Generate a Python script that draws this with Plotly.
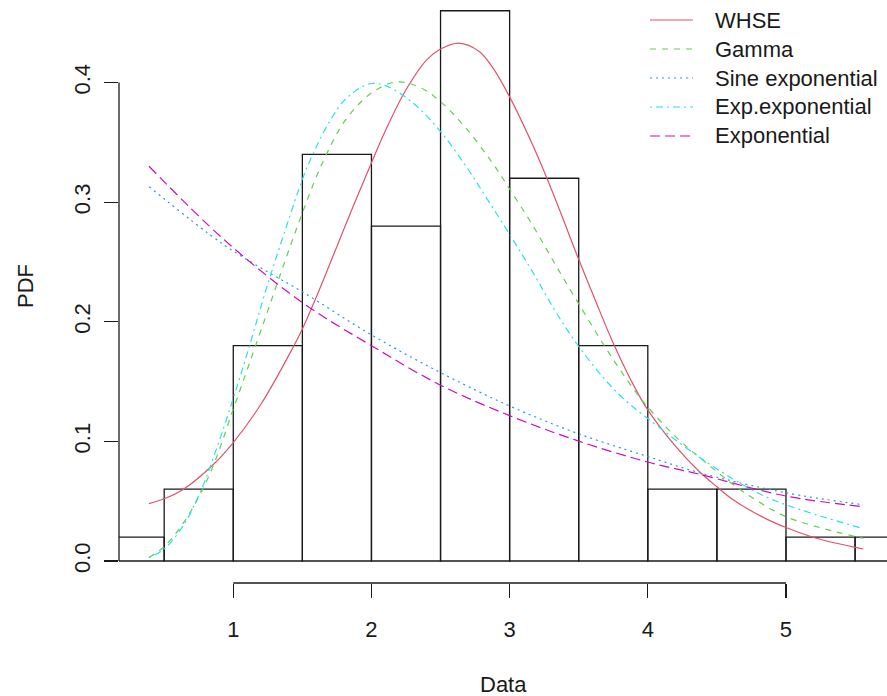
import plotly.graph_objects as go

# ---------------- data ----------------
bin_left = [0.0, 0.5, 1.0, 1.5, 2.0, 2.5, 3.0, 3.5, 4.0, 4.5, 5.0, 5.5]
density = [0.02, 0.06, 0.18, 0.34, 0.28, 0.46, 0.32, 0.18, 0.06, 0.06, 0.02, 0.02]
bin_width = 0.5

whse_x = [0.39, 0.5, 0.64, 0.85, 1.0, 1.2, 1.43, 1.5, 1.62, 1.75, 1.88, 2.0, 2.11, 2.25,
          2.4, 2.5, 2.63, 2.78, 2.88, 3.0, 3.17, 3.27, 3.38, 3.49, 3.62, 3.75, 3.87, 3.99,
          4.2, 4.37, 4.5, 4.62, 4.86, 5.0, 5.22, 5.56]
whse_y = [0.048, 0.052, 0.060, 0.080, 0.099, 0.131, 0.178, 0.194, 0.226, 0.263, 0.300, 0.333,
          0.362, 0.394, 0.419, 0.428, 0.433, 0.426, 0.412, 0.388, 0.347, 0.320, 0.288, 0.255,
          0.218, 0.182, 0.153, 0.128, 0.096, 0.075, 0.062, 0.051, 0.035, 0.028, 0.019, 0.010]

gamma_x = [0.39, 0.5, 0.64, 0.77, 0.87, 1.0, 1.11, 1.24, 1.36, 1.5, 1.65, 1.82, 2.01, 2.18,
           2.35, 2.5, 2.69, 2.88, 3.0, 3.17, 3.33, 3.49, 3.68, 3.84, 3.99, 4.2, 4.37, 4.64,
           4.81, 5.0, 5.34, 5.56]
gamma_y = [0.003, 0.012, 0.032, 0.058, 0.084, 0.127, 0.163, 0.206, 0.246, 0.291, 0.334, 0.370,
           0.392, 0.4005, 0.396, 0.384, 0.361, 0.332, 0.311, 0.280, 0.248, 0.217, 0.181, 0.153,
           0.130, 0.104, 0.087, 0.062, 0.049, 0.037, 0.025, 0.019]

sine_x = [0.39, 0.93, 1.26, 1.5, 2.0, 2.5, 3.0, 3.49, 3.99, 4.37, 5.0, 5.56]
sine_y = [0.313, 0.2645, 0.241, 0.225, 0.189, 0.1575, 0.1296, 0.1067, 0.0877, 0.074, 0.057, 0.047]

expexp_x = [0.39, 0.5, 0.64, 0.77, 0.87, 1.0, 1.11, 1.24, 1.34, 1.5, 1.56, 1.70, 1.82, 1.99,
            2.11, 2.30, 2.50, 2.69, 2.83, 3.0, 3.17, 3.33, 3.49, 3.68, 3.84, 3.99, 4.37, 4.76,
            5.0, 5.56]
expexp_y = [0.003, 0.010, 0.030, 0.060, 0.091, 0.136, 0.177, 0.228, 0.264, 0.319, 0.336, 0.368,
            0.387, 0.399, 0.397, 0.383, 0.359, 0.329, 0.304, 0.273, 0.241, 0.209, 0.181, 0.153,
            0.134, 0.120, 0.087, 0.059, 0.047, 0.027]

expo_x = [0.39, 0.93, 1.5, 2.0, 2.5, 3.0, 3.49, 3.99, 4.37, 5.0, 5.56]
expo_y = [0.330, 0.269, 0.216, 0.180, 0.147, 0.1215, 0.1006, 0.083, 0.0726, 0.0543, 0.0454]

series_names = ["WHSE", "Gamma", "Sine exponential", "Exp.exponential", "Exponential"]
x_ticks = [1, 2, 3, 4, 5]
y_ticks = [0.0, 0.1, 0.2, 0.3, 0.4]
y_tick_labels = ["0.0", "0.1", "0.2", "0.3", "0.4"]

# ---------------- styling ----------------
colors = ["#DF536B", "#61D04F", "#2297E6", "#28E2E5", "#CD0BBC"]
dashes = ["solid", "6px,6px", "2px,4px", "2px,4px,7px,4px", "10px,5px"]
FONT = "Liberation Sans, Arial, sans-serif"
FS = 22
INK = "#1a1a1a"
W, H = 887, 696
L, R, T, B = 119, 0, 0, 113
PW, PH = W - L - R, H - T - B

fig = go.Figure()
fig.add_trace(go.Bar(
    x=bin_left, y=density, width=bin_width, offset=0,
    marker=dict(color="rgba(0,0,0,0)", line=dict(color=INK, width=1.3)),
    showlegend=False, hoverinfo="skip"))

curves = [(whse_x, whse_y), (gamma_x, gamma_y), (sine_x, sine_y),
          (expexp_x, expexp_y), (expo_x, expo_y)]
for (xs, ys), name, c, d in zip(curves, series_names, colors, dashes):
    fig.add_trace(go.Scatter(x=xs, y=ys, mode="lines", name=name,
                             line=dict(color=c, width=1.2, dash=d, shape="spline", smoothing=1.0),
                             showlegend=False))

shapes = [
    # detached R-style axis lines
    dict(type="line", xref="x", yref="paper", x0=x_ticks[0], x1=x_ticks[-1], y0=0, y1=0,
         line=dict(color=INK, width=1.3)),
    dict(type="line", xref="paper", yref="y", x0=0, x1=0, y0=y_ticks[0], y1=y_ticks[-1],
         line=dict(color=INK, width=1.3)),
]
annotations = [
    dict(text="Data", xref="paper", yref="paper", x=(503 - L) / PW, y=(H - B - 684) / PH,
         showarrow=False, font=dict(family=FONT, size=FS, color=INK),
         xanchor="center", yanchor="middle"),
    dict(text="PDF", xref="paper", yref="paper", x=(25 - L) / PW, y=(H - B - 286) / PH,
         showarrow=False, textangle=-90, font=dict(family=FONT, size=FS, color=INK),
         xanchor="center", yanchor="middle"),
]
# manual R-style legend (no box)
for i, (name, c, d) in enumerate(zip(series_names, colors, dashes)):
    py = 20 + 29 * i
    yp = (H - B - py) / PH
    shapes.append(dict(type="line", xref="paper", yref="paper",
                       x0=(650 - L) / PW, x1=(693 - L) / PW, y0=yp, y1=yp,
                       line=dict(color=c, width=1.2, dash=d)))
    annotations.append(dict(text=name, xref="paper", yref="paper", x=(713 - L) / PW, y=yp,
                            showarrow=False, xanchor="left", yanchor="middle",
                            font=dict(family=FONT, size=FS, color=INK)))

fig.update_layout(
    width=W, height=H, margin=dict(l=L, r=R, t=T, b=B, pad=0, autoexpand=False),
    paper_bgcolor="white", plot_bgcolor="white",
    bargap=0, showlegend=False,
    font=dict(family=FONT, size=FS, color=INK),
    xaxis=dict(range=[0.173, 5.731], tickvals=x_ticks, ticks="outside", ticklen=14,
               tickwidth=1.3, tickcolor=INK, showgrid=False, zeroline=False,
               showline=False, ticklabelstandoff=13, automargin=False,
               tickfont=dict(family=FONT, size=FS, color=INK)),
    yaxis=dict(range=[-0.0184, 0.469], tickvals=y_ticks, ticktext=y_tick_labels,
               ticks="outside", ticklen=14, tickwidth=1.3, tickcolor=INK,
               tickangle=-90, showgrid=False, zeroline=False, showline=False,
               ticklabelstandoff=5, automargin=False,
               tickfont=dict(family=FONT, size=FS, color=INK)),
    shapes=shapes, annotations=annotations,
)

fig.write_html("out.html", config={"displayModeBar": False, "staticPlot": True},
               post_script="document.body.style.margin='0px';")
